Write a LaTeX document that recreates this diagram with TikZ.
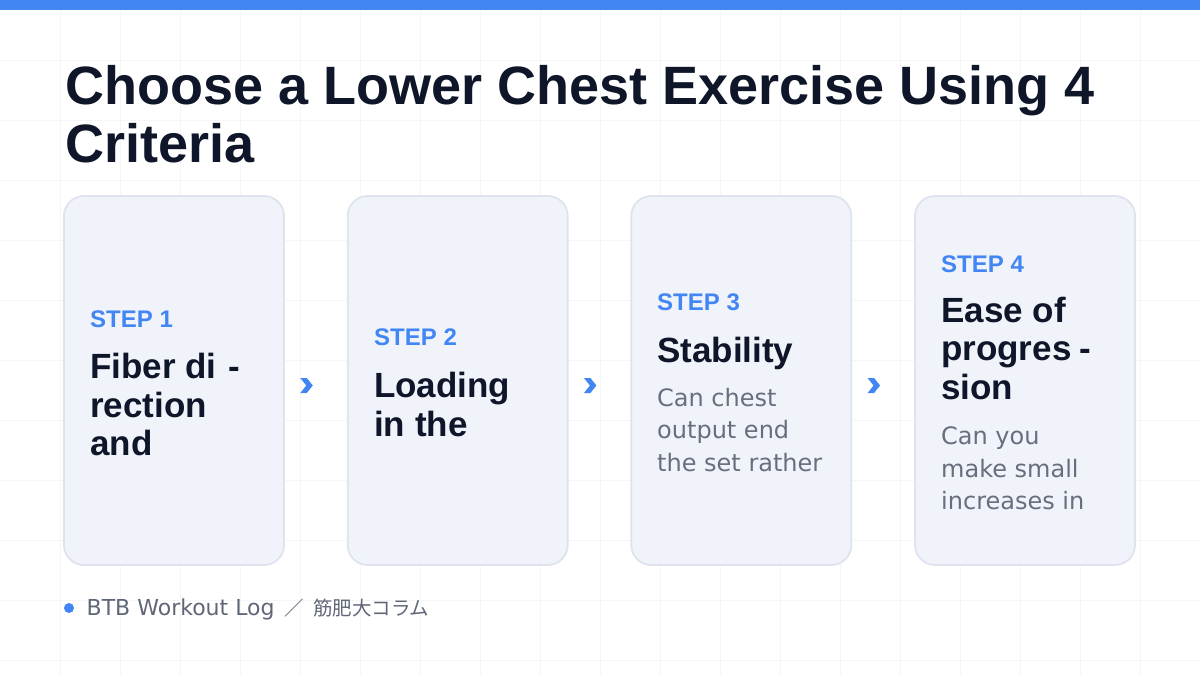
\documentclass[tikz,border=0pt]{standalone}
\usepackage{fontspec}
\setmainfont{Liberation Sans}
\newfontfamily\bodyfont{DejaVu Sans}
\newfontfamily\cjkfont{Noto Sans CJK JP}
\definecolor{accent}{HTML}{4286F4}
\definecolor{ink}{HTML}{0F1629}
\definecolor{muted}{HTML}{676E7D}
\definecolor{footgray}{HTML}{5F6676}
\definecolor{cardfill}{HTML}{F0F3FA}
\definecolor{cardline}{HTML}{DEE3EE}
\definecolor{gridc}{HTML}{F5F6F8}
\begin{document}
\begin{tikzpicture}[x=1pt,y=-1pt,
  card/.style={draw=cardline, line width=1.8pt, fill=cardfill, rounded corners=20pt,
    minimum width=220pt, minimum height=369pt, inner sep=0pt},
  steplabel/.style={anchor=base west, inner sep=0pt, text=accent,
    font=\fontsize{24}{24}\selectfont\bfseries},
  head/.style={anchor=base west, inner sep=0pt, text=ink,
    font=\fontsize{35}{39}\selectfont\bfseries},
  body/.style={anchor=base west, inner sep=0pt, text=muted,
    font=\bodyfont\fontsize{24}{32}\selectfont},
  titletext/.style={anchor=base west, inner sep=0pt, text=ink,
    font=\fontsize{54}{58}\selectfont\bfseries},
  chevfill/.style={fill=accent},
]
\useasboundingbox (0,0) rectangle (1200,675);
\fill[white] (0,0) rectangle (1200,675);
% faint grid
\foreach \gx in {60,120,...,1140} \draw[gridc, line width=0.8pt] (\gx,0) -- (\gx,675);
\foreach \gy in {60,120,...,660} \draw[gridc, line width=0.8pt] (0,\gy) -- (1200,\gy);
% top bar
\fill[accent] (0,0) rectangle (1200,10);

% title
\node[titletext] (t1) at (65,104) {Choose a Lower Chest Exercise Using 4};
\node[titletext] (t2) at (65,162) {Criteria};

% cards
\node[card] (card1) at (174,380.5) {};
\node[card] (card2) at (457.7,380.5) {};
\node[card] (card3) at (741.3,380.5) {};
\node[card] (card4) at (1025,380.5) {};

% chevrons between cards
\foreach \a/\b/\n in {card1/card2/ch1, card2/card3/ch2, card3/card4/ch3}{
  \path (\a.east) -- (\b.west) coordinate[pos=0.345] (\n);
  \fill[chevfill] ([shift={(-6,-2.5)}]\n) -- ++(6.5,0) -- ++(6,7.5) -- ++(-6,7.5)
    -- ++(-6.5,0) -- ++(6,-7.5) -- cycle;
}

% card 1
\node[steplabel] (s1) at (90,327) {STEP 1};
\node[head] (h1a) at (90,378) {Fiber di\hspace{12pt}-};
\node[head] (h1b) at (90,417) {rection};
\node[head] (h1c) at (90,455) {and};

% card 2
\node[steplabel] (s2) at (374,345.5) {STEP 2};
\node[head] (h2a) at (374,397) {Loading};
\node[head] (h2b) at (374,436) {in the};

% card 3
\node[steplabel] (s3) at (657,310.5) {STEP 3};
\node[head] (h3a) at (657,362) {Stability};
\node[body] (b3a) at (657,406) {Can chest};
\node[body] (b3b) at (657,438.5) {output end};
\node[body] (b3c) at (657,471) {the set rather};

% card 4
\node[steplabel] (s4) at (941,272) {STEP 4};
\node[head] (h4a) at (941,322) {Ease of};
\node[head] (h4b) at (941,360) {progres\hspace{8pt}-};
\node[head] (h4c) at (941,399) {sion};
\node[body] (b4a) at (941,444) {Can you};
\node[body] (b4b) at (941,477) {make small};
\node[body] (b4c) at (941,509) {increases in};

% footer
\node[circle, fill=accent, minimum size=10pt, inner sep=0pt] (dot) at (69,608) {};
\node[anchor=base west, inner sep=0pt, text=footgray] (foot) at (86.5,615.5)
  {\bodyfont\fontsize{22}{24}\selectfont BTB Workout Log\hspace{10pt}{\cjkfont\fontsize{19.5}{24}\selectfont ／\hspace{9pt}筋肥大コラム}};
\end{tikzpicture}
\end{document}
